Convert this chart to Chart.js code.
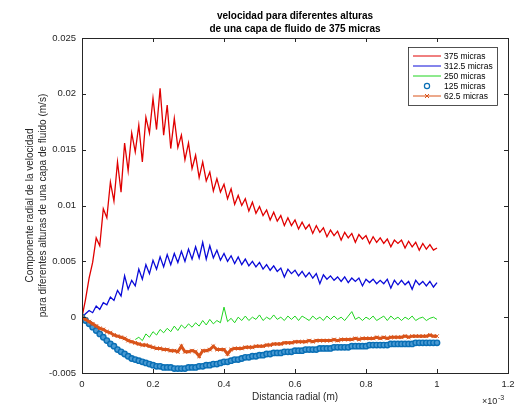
<!DOCTYPE html>
<html>
<head>
<meta charset="utf-8">
<script src="https://cdn.jsdelivr.net/npm/chart.js@4/dist/chart.umd.min.js"></script>
<style>body{margin:0;background:#fff}</style>
</head>
<body>
<canvas id="myChart" width="522" height="412"></canvas>
<script>
// radial distance, in units of 1e-3 m (axis shows x10^-3)
var radial = [
  0, 0.01, 0.02, 0.03, 0.04, 0.05, 0.06, 0.07, 0.08, 0.09,
  0.10, 0.11, 0.12, 0.13, 0.14, 0.15, 0.16, 0.17, 0.18, 0.19,
  0.20, 0.21, 0.22, 0.23, 0.24, 0.25, 0.26, 0.27, 0.28, 0.29,
  0.30, 0.31, 0.32, 0.33, 0.34, 0.35, 0.36, 0.37, 0.38, 0.39,
  0.40, 0.41, 0.42, 0.43, 0.44, 0.45, 0.46, 0.47, 0.48, 0.49,
  0.50, 0.51, 0.52, 0.53, 0.54, 0.55, 0.56, 0.57, 0.58, 0.59,
  0.60, 0.61, 0.62, 0.63, 0.64, 0.65, 0.66, 0.67, 0.68, 0.69,
  0.70, 0.71, 0.72, 0.73, 0.74, 0.75, 0.76, 0.77, 0.78, 0.79,
  0.80, 0.81, 0.82, 0.83, 0.84, 0.85, 0.86, 0.87, 0.88, 0.89,
  0.90, 0.91, 0.92, 0.93, 0.94, 0.95, 0.96, 0.97, 0.98, 0.99,
  1.00
];
var v375 = [
  0, 0.0016, 0.0035, 0.0049, 0.0071, 0.0064, 0.0097, 0.0089, 0.0121, 0.0104,
  0.0139, 0.0112, 0.0156, 0.0131, 0.0165, 0.0148, 0.0172, 0.0139, 0.0179, 0.0165,
  0.0196, 0.0168, 0.0205, 0.0163, 0.0190, 0.0151, 0.0178, 0.0152, 0.0163, 0.0141,
  0.0156, 0.0133, 0.0145, 0.0125, 0.0139, 0.0122, 0.0130, 0.0113, 0.0124, 0.0112,
  0.0119, 0.0106, 0.0115, 0.0101, 0.0109, 0.0100, 0.0106, 0.0095, 0.0103, 0.0093,
  0.0099, 0.0091, 0.0096, 0.0087, 0.0094, 0.0086, 0.0091, 0.0082, 0.0089, 0.0082,
  0.0087, 0.0079, 0.0085, 0.0079, 0.0083, 0.0075, 0.0082, 0.0076, 0.0080, 0.0072,
  0.0078, 0.0073, 0.0077, 0.0069, 0.0076, 0.0071, 0.0075, 0.0067, 0.0074, 0.0070,
  0.0073, 0.0066, 0.0072, 0.0067, 0.0071, 0.0066, 0.0070, 0.0063, 0.0069, 0.0066,
  0.0069, 0.0062, 0.0068, 0.0063, 0.0067, 0.0060, 0.0066, 0.0061, 0.0065, 0.0060,
  0.0062
];
var v3125 = [
  0, 0.0003, 0.0006, 0.0004, 0.0010, 0.0007, 0.0013, 0.0011, 0.0018, 0.0015,
  0.0024, 0.0019, 0.0037, 0.0025, 0.0033, 0.0028, 0.0043, 0.0034, 0.0047, 0.0039,
  0.0051, 0.0043, 0.0054, 0.0045, 0.0056, 0.0047, 0.0057, 0.0049, 0.0059, 0.0050,
  0.0061, 0.0052, 0.0063, 0.0053, 0.0067, 0.0052, 0.0064, 0.0053, 0.0060, 0.0051,
  0.0057, 0.0050, 0.0055, 0.0048, 0.0054, 0.0047, 0.0052, 0.0046, 0.0050, 0.0045,
  0.0049, 0.0043, 0.0047, 0.0042, 0.0046, 0.0041, 0.0044, 0.0036, 0.0043, 0.0039,
  0.0042, 0.0037, 0.0041, 0.0036, 0.0040, 0.0035, 0.0039, 0.0030, 0.0038, 0.0034,
  0.0037, 0.0033, 0.0036, 0.0032, 0.0036, 0.0031, 0.0035, 0.0032, 0.0035, 0.0028,
  0.0034, 0.0031, 0.0034, 0.0030, 0.0033, 0.0030, 0.0034, 0.0026, 0.0033, 0.0029,
  0.0033, 0.0029, 0.0032, 0.0025, 0.0033, 0.0029, 0.0032, 0.0028, 0.0032, 0.0027,
  0.0031
];
var v250 = [
  null, null, null, null, null, null, null, null, null, null,
  null, null, null, null, null, -0.0020, -0.0018, -0.0021, -0.0015, -0.0018,
  -0.0013, -0.0016, -0.0011, -0.0014, -0.0010, -0.0013, -0.0008, -0.0012, -0.0007, -0.0010,
  -0.0006, -0.0009, -0.0005, -0.0008, -0.0003, -0.0007, -0.0002, -0.0006, -0.0003, -0.0005,
  0.0009, -0.0004, -0.0001, -0.0005, 0.0000, -0.0003, 0.0001, -0.0003, 0.0000, -0.0002,
  0.0002, -0.0003, 0.0000, -0.0002, 0.0002, -0.0002, 0.0000, -0.0003, 0.0001, -0.0002,
  0.0001, -0.0003, 0.0001, -0.0001, -0.0003, 0.0001, -0.0002, 0.0000, -0.0003, 0.0001,
  -0.0002, 0.0001, -0.0002, 0.0000, -0.0003, 0.0001, 0.0005, -0.0002, 0.0000, -0.0003,
  0.0000, -0.0002, 0.0001, -0.0003, -0.0001, 0.0001, -0.0003, 0.0001, -0.0002, 0.0000,
  -0.0003, 0.0000, -0.0002, 0.0001, -0.0003, -0.0001, 0.0000, -0.0003, -0.0001, 0.0000,
  -0.0002
];
var v125 = [
  0, -0.0003, -0.0006, -0.0009, -0.0012, -0.0015, -0.0018, -0.0021, -0.0024, -0.0026,
  -0.0029, -0.0031, -0.0033, -0.0035, -0.0037, -0.0038, -0.0039, -0.0040, -0.0041, -0.0042,
  -0.0043, -0.0044, -0.0044, -0.0045, -0.0045, -0.0045, -0.0046, -0.0046, -0.0046, -0.0046,
  -0.0045, -0.0045, -0.0045, -0.0044, -0.0044, -0.0043, -0.0043, -0.0042, -0.0042, -0.0041,
  -0.0040, -0.0040, -0.0039, -0.0038, -0.0038, -0.0037, -0.0036, -0.0036, -0.0035, -0.0035,
  -0.0034, -0.0034, -0.0033, -0.0033, -0.0032, -0.0032, -0.0032, -0.0031, -0.0031, -0.0031,
  -0.0030, -0.0030, -0.0030, -0.0029, -0.0029, -0.0029, -0.0029, -0.0028, -0.0028, -0.0028,
  -0.0028, -0.0027, -0.0027, -0.0027, -0.0027, -0.0027, -0.0026, -0.0026, -0.0026, -0.0026,
  -0.0026, -0.0025, -0.0025, -0.0025, -0.0025, -0.0025, -0.0025, -0.0024, -0.0024, -0.0024,
  -0.0024, -0.0024, -0.0024, -0.0024, -0.0023, -0.0023, -0.0023, -0.0023, -0.0023, -0.0023,
  -0.0023
];
var v625 = [
  0, -0.0002, -0.0004, -0.0006, -0.0008, -0.0010, -0.0011, -0.0013, -0.0014, -0.0016,
  -0.0017, -0.0018, -0.0019, -0.0021, -0.0022, -0.0023, -0.0024, -0.0025, -0.0025, -0.0026,
  -0.0027, -0.0028, -0.0028, -0.0029, -0.0029, -0.0030, -0.0030, -0.0031, -0.0026, -0.0031,
  -0.0031, -0.0030, -0.0031, -0.0035, -0.0030, -0.0030, -0.0029, -0.0026, -0.0029, -0.0029,
  -0.0029, -0.0033, -0.0029, -0.0028, -0.0028, -0.0028, -0.0027, -0.0027, -0.0027, -0.0026,
  -0.0026, -0.0026, -0.0025, -0.0025, -0.0024, -0.0024, -0.0024, -0.0023, -0.0023, -0.0023,
  -0.0022, -0.0022, -0.0022, -0.0022, -0.0021, -0.0022, -0.0021, -0.0021, -0.0021, -0.0021,
  -0.0021, -0.0020, -0.0021, -0.0020, -0.0020, -0.0020, -0.0020, -0.0019, -0.0020, -0.0019,
  -0.0019, -0.0019, -0.0019, -0.0018, -0.0019, -0.0018, -0.0019, -0.0018, -0.0018, -0.0018,
  -0.0018, -0.0017, -0.0018, -0.0017, -0.0017, -0.0017, -0.0017, -0.0017, -0.0016, -0.0017,
  -0.0017
];
var seriesNames = ['375 micras', '312.5 micras', '250 micras', '125 micras', '62.5 micras'];
var xTicks = [0, 0.2, 0.4, 0.6, 0.8, 1, 1.2];
var yTicks = [-0.005, 0, 0.005, 0.01, 0.015, 0.02, 0.025];
var titleLines = ['velocidad para diferentes alturas', 'de una capa de fluido de 375 micras'];

var FONT = "'Liberation Sans', Arial, Helvetica, sans-serif";
var INK = '#262626';

function toPoints(vals) {
    var pts = [];
    for (var i = 0; i < vals.length; i++) {
        pts.push({x: radial[i], y: vals[i]});
    }
    return pts;
}

function fmt(v) {
    return String(parseFloat(v.toFixed(4)));
}

// frame, inward ticks, title, exponent and legend box in the matlab way
var matlabBits = {
    id: 'matlabBits',
    afterDraw: function(chart) {
        var ctx = chart.ctx, a = chart.chartArea;
        var xs = chart.scales.x, ys = chart.scales.y;
        ctx.save();
        ctx.strokeStyle = INK;
        ctx.lineWidth = 1;
        ctx.strokeRect(Math.round(a.left) + 0.5, Math.round(a.top) + 0.5,
            Math.round(a.right - a.left), Math.round(a.bottom - a.top));
        ctx.beginPath();
        xs.ticks.forEach(function(t) {
            var px = Math.round(xs.getPixelForValue(t.value)) + 0.5;
            ctx.moveTo(px, a.bottom); ctx.lineTo(px, a.bottom - 4);
            ctx.moveTo(px, a.top); ctx.lineTo(px, a.top + 4);
        });
        ys.ticks.forEach(function(t) {
            var py = Math.round(ys.getPixelForValue(t.value)) + 0.5;
            ctx.moveTo(a.left, py); ctx.lineTo(a.left + 4, py);
            ctx.moveTo(a.right, py); ctx.lineTo(a.right - 4, py);
        });
        ctx.stroke();

        // title
        var cx = (a.left + a.right) / 2;
        ctx.fillStyle = '#000';
        ctx.font = 'bold 10px ' + FONT;
        ctx.textAlign = 'center';
        ctx.textBaseline = 'middle';
        ctx.fillText(titleLines[0], cx, 16);
        ctx.fillText(titleLines[1], cx, 29);

        // x10^-3
        ctx.fillStyle = INK;
        ctx.textAlign = 'left';
        ctx.font = '9px ' + FONT;
        ctx.fillText('\u00d710', a.right - 26, 402);
        ctx.font = '7px ' + FONT;
        ctx.fillText('-3', a.right - 10, 398);

        // legend
        var bx = 408, by = 47, bw = 89, bh = 58;
        ctx.fillStyle = '#fff';
        ctx.fillRect(bx, by, bw, bh);
        ctx.strokeStyle = INK;
        ctx.lineWidth = 0.8;
        ctx.strokeRect(bx + 0.5, by + 0.5, bw, bh);
        ctx.font = '8.5px ' + FONT;
        ctx.textBaseline = 'middle';
        chart.data.datasets.forEach(function(ds, i) {
            var y = by + 9 + i * 10;
            var x0 = bx + 5, x1 = bx + 33, xm = (x0 + x1) / 2;
            if (ds.pointStyle !== 'circle') {
                ctx.strokeStyle = ds.borderColor;
                ctx.lineWidth = 1;
                ctx.beginPath(); ctx.moveTo(x0, y); ctx.lineTo(x1, y); ctx.stroke();
            }
            if (ds.pointStyle === 'circle') {
                ctx.strokeStyle = ds.pointBorderColor;
                ctx.lineWidth = 1.2;
                ctx.beginPath(); ctx.arc(xm, y, 2.6, 0, Math.PI * 2); ctx.stroke();
            } else if (ds.pointStyle === 'crossRot') {
                ctx.strokeStyle = ds.pointBorderColor;
                ctx.lineWidth = 1;
                ctx.beginPath();
                ctx.moveTo(xm - 2, y - 2); ctx.lineTo(xm + 2, y + 2);
                ctx.moveTo(xm - 2, y + 2); ctx.lineTo(xm + 2, y - 2);
                ctx.stroke();
            }
            ctx.fillStyle = '#000';
            ctx.fillText(ds.label, x1 + 3, y + 0.5);
        });
        ctx.restore();
    }
};

new Chart(document.getElementById('myChart'), {
    type: 'scatter',
    data: {
        datasets: [
            {label: seriesNames[0], data: toPoints(v375), showLine: true, borderColor: '#e00000',
             borderWidth: 1.3, pointRadius: 0, order: 5},
            {label: seriesNames[1], data: toPoints(v3125), showLine: true, borderColor: '#0a0ad8',
             borderWidth: 1.3, pointRadius: 0, order: 4},
            {label: seriesNames[2], data: toPoints(v250), showLine: true, borderColor: '#1fd41f',
             borderWidth: 1, pointRadius: 0, order: 3},
            // markers are so dense in the original they fuse into a band
            {label: seriesNames[3], data: toPoints(v125), showLine: true, borderWidth: 4,
             borderColor: '#0072BD', pointStyle: 'circle',
             pointRadius: 2.7, pointBorderWidth: 1.4, pointBorderColor: '#0a6fb5',
             pointBackgroundColor: '#4a9ad3', order: 2},
            {label: seriesNames[4], data: toPoints(v625), showLine: true, borderColor: '#D95319',
             borderWidth: 3, pointStyle: 'crossRot', pointRadius: 2.6, pointBorderWidth: 1,
             pointBorderColor: '#D95319', order: 1}
        ]
    },
    options: {
        responsive: false,
        animation: false,
        layout: {padding: {top: 38, right: 14, left: 0, bottom: 0}},
        plugins: {
            legend: {display: false},
            tooltip: {enabled: false}
        },
        scales: {
            x: {
                type: 'linear',
                min: 0, max: 1.2,
                afterBuildTicks: function(s) { s.ticks = xTicks.map(function(v) { return {value: v}; }); },
                afterFit: function(s) { s.height = 39; },
                grid: {display: false, drawTicks: false},
                border: {display: false},
                ticks: {padding: 6, color: INK, font: {family: FONT, size: 9.5},
                        maxRotation: 0, callback: function(v) { return fmt(v); }},
                title: {display: true, text: 'Distancia radial (m)', color: INK,
                        font: {family: FONT, size: 10}, padding: {top: 0, bottom: 9}}
            },
            y: {
                type: 'linear',
                min: -0.005, max: 0.025,
                afterBuildTicks: function(s) { s.ticks = yTicks.map(function(v) { return {value: v}; }); },
                afterFit: function(s) { s.width = 82; },
                grid: {display: false, drawTicks: false},
                border: {display: false},
                ticks: {padding: 6, color: INK, font: {family: FONT, size: 9.5},
                        callback: function(v) { return fmt(v); }},
                title: {display: true, color: INK,
                        text: ['Componente radial de la velocidad', 'para diferentes alturas de una capa de fluido (m/s)'],
                        font: {family: FONT, size: 10, lineHeight: 1.3}, padding: {top: 24, bottom: 0}}
            }
        }
    },
    plugins: [matlabBits]
});
</script>
</body>
</html>
